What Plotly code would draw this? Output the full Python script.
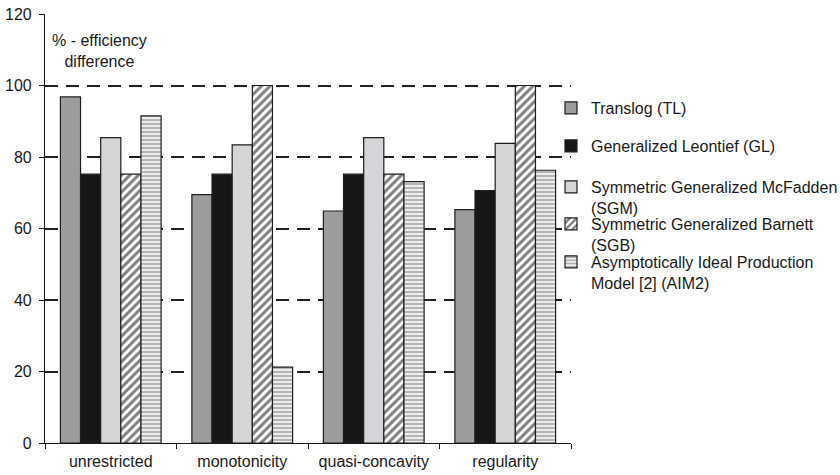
import plotly.graph_objects as go

# Restriction types on the x axis
categories = ["unrestricted", "monotonicity", "quasi-concavity", "regularity"]

# % efficiency difference per functional form
translog = [96.8, 69.5, 64.9, 65.3]
gen_leontief = [75.2, 75.2, 75.2, 70.6]
sym_mcfadden = [85.4, 83.4, 85.4, 83.8]
sym_barnett = [75.2, 100.0, 75.2, 100.0]
aim2 = [91.5, 21.2, 73.1, 76.3]

series_names = [
    "Translog (TL)",
    "Generalized Leontief (GL)",
    "Symmetric Generalized McFadden<br>(SGM)",
    "Symmetric Generalized Barnett<br>(SGB)",
    "Asymptotically Ideal Production<br>Model [2] (AIM2)",
]
series_values = [translog, gen_leontief, sym_mcfadden, sym_barnett, aim2]

y_ticks = [0, 20, 40, 60, 80, 100, 120]

FONT = "Liberation Sans, Arial, Helvetica, sans-serif"
INK = "#1a1a1a"
FS = 16
OUTLINE = dict(color="#1e1e1e", width=1.2)

styles = [
    dict(color="#9c9c9c", line=OUTLINE),
    dict(color="#161616", line=OUTLINE),
    dict(color="#d5d5d7", line=OUTLINE),
    dict(color="white", line=OUTLINE,
         pattern=dict(shape="/", fgcolor="#000000", bgcolor="white",
                      size=6, solidity=0.5)),
    dict(color="#e6e6e6", line=OUTLINE,
         pattern=dict(shape="-", fgcolor="#7c7c7c", bgcolor="#ececec",
                      size=4, solidity=0.5)),
]

# plot area in pixels: x 45..571, y 14..443
PX_L, PX_R, PX_T, PX_B = 45, 571, 14, 443
W, H = 840, 475


def px_to_paper(px, py):
    return (px - PX_L) / (PX_R - PX_L), (PX_B - py) / (PX_B - PX_T)


# first-line centres of each legend entry
legend_rows = [108, 146, 187, 224, 262]
legend_text_x = 591

fig = go.Figure()
legend_layouts = {}
for i, (name, vals, mk) in enumerate(zip(series_names, series_values, styles)):
    key = "legend" if i == 0 else f"legend{i + 1}"
    fig.add_trace(go.Bar(
        x=categories, y=vals, name=name, marker=mk, legend=key,
    ))
    lx, ly = px_to_paper(legend_text_x - 40, legend_rows[i] - 17)
    legend_layouts[key] = dict(
        x=lx, xanchor="left", y=ly, yanchor="top",
        font=dict(family=FONT, size=FS, color=INK),
        valign="top", itemwidth=30, borderwidth=0,
        bgcolor="rgba(0,0,0,0)",
    )

ax, ay = px_to_paper(99, 51.5)
fig.update_layout(
    width=W, height=H,
    margin=dict(l=PX_L, r=W - PX_R, t=PX_T, b=H - PX_B, autoexpand=False),
    paper_bgcolor="white", plot_bgcolor="white",
    font=dict(family=FONT, size=FS, color=INK),
    barmode="group", bargap=0.234, bargroupgap=0,
    showlegend=True,
    xaxis=dict(
        showline=True, linecolor=INK, linewidth=1.2, automargin=False,
        ticks="outside", tickson="boundaries", ticklen=5,
        tickcolor=INK, showgrid=False, ticklabelstandoff=4,
        tickfont=dict(family=FONT, size=FS, color=INK),
    ),
    yaxis=dict(
        range=[0, 120], tickvals=y_ticks, automargin=False,
        showline=True, linecolor=INK, linewidth=1.2,
        ticks="outside", ticklen=5, tickcolor=INK,
        showgrid=True, gridcolor="#222222", gridwidth=1.5,
        griddash="13px,8px", zeroline=False, ticklabelstandoff=4,
        tickfont=dict(family=FONT, size=FS, color=INK),
    ),
    annotations=[dict(
        text="% - efficiency<br>difference",
        xref="paper", yref="paper", x=ax, y=ay,
        xanchor="center", yanchor="middle", align="center",
        showarrow=False, font=dict(family=FONT, size=FS, color=INK),
    )],
    **legend_layouts,
)

fig.write_html("out.html")
